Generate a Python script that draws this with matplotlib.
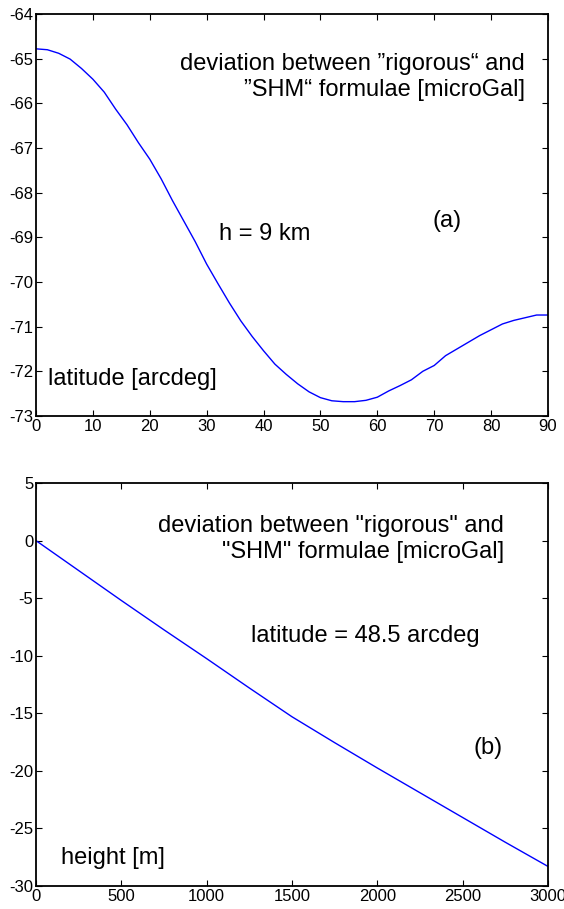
import numpy as np
import matplotlib.pyplot as plt

plt.rcParams['font.family'] = ['Liberation Sans', 'DejaVu Sans']
plt.rcParams['axes.unicode_minus'] = False

# panel (a): deviation vs latitude, h = 9 km
lat = [0, 2, 4, 6, 8, 10, 12, 14, 16, 18, 20, 22, 24, 26, 28, 30, 32, 34, 36,
       38, 40, 42, 44, 46, 48, 50, 52, 54, 56, 58, 60, 62, 64, 66, 68, 70,
       72, 74, 76, 78, 80, 82, 84, 86, 88, 90]
dev_lat = [-64.78, -64.80, -64.88, -65.01, -65.22, -65.46, -65.75, -66.13, -66.48,
           -66.88, -67.25, -67.69, -68.18, -68.64, -69.10, -69.60, -70.04, -70.47,
           -70.87, -71.22, -71.54, -71.84, -72.07, -72.28, -72.46, -72.59, -72.66,
           -72.68, -72.68, -72.65, -72.58, -72.44, -72.32, -72.19, -72.00, -71.87,
           -71.65, -71.50, -71.35, -71.20, -71.07, -70.94, -70.86, -70.80, -70.74,
           -70.74]

# panel (b): deviation vs height, latitude = 48.5 arcdeg
height = [0, 250, 500, 750, 1000, 1250, 1500, 1750, 2000, 2250, 2500, 2750, 3000]
dev_h = [0.0, -2.6, -5.2, -7.75, -10.25, -12.8, -15.3, -17.55, -19.75, -21.9,
         -24.05, -26.2, -28.3]

fig = plt.figure(figsize=(5.64, 9.09), dpi=100)
ax1 = fig.add_axes([0.0638, 0.5424, 0.9078, 0.4422])
ax2 = fig.add_axes([0.0638, 0.0253, 0.9078, 0.4433])

for ax in (ax1, ax2):
    ax.tick_params(direction='in', top=True, right=True, length=4, width=0.8,
                   labelsize=12, pad=2)
    for s in ax.spines.values():
        s.set_linewidth(1.3)

fs = 17

ax1.plot(lat, dev_lat, color='#0000ff', lw=1)
ax1.set_xlim(0, 90)
ax1.set_ylim(-73, -64)
ax1.set_xticks(np.arange(0, 91, 10))
ax1.set_yticks(np.arange(-73, -63, 1))
ax1.text(86.0, -65.41, 'deviation between \u201drigorous\u201c and\n\u201dSHM\u201c formulae [microGal]',
         ha='right', va='center', multialignment='right', fontsize=fs, linespacing=1.2)
ax1.text(32.2, -68.93, 'h = 9 km', ha='left', va='center', fontsize=fs)
ax1.text(69.7, -68.63, '(a)', ha='left', va='center', fontsize=fs)
ax1.text(2.2, -72.17, 'latitude [arcdeg]', ha='left', va='center', fontsize=fs)

ax2.plot(height, dev_h, color='#0000ff', lw=1)
ax2.set_xlim(0, 3000)
ax2.set_ylim(-30, 5)
ax2.set_xticks(np.arange(0, 3001, 500))
ax2.set_yticks(np.arange(-30, 6, 5))
ax2.text(2742, 0.13, 'deviation between "rigorous" and\n"SHM" formulae [microGal]',
         ha='right', va='center', multialignment='right', fontsize=fs, linespacing=1.2)
ax2.text(1260, -8.3, 'latitude = 48.5 arcdeg', ha='left', va='center', fontsize=fs)
ax2.text(2734, -18.0, '(b)', ha='right', va='center', fontsize=fs)
ax2.text(146, -27.6, 'height [m]', ha='left', va='center', fontsize=fs)

fig.savefig('out.png', dpi=100)
